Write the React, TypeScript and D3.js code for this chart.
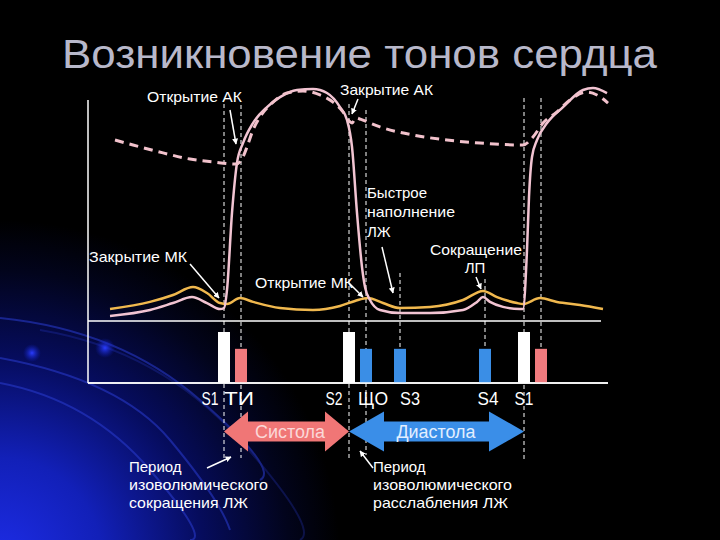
import React from 'react';
import * as d3 from 'd3';

// ---------- DATA ----------
const title = 'Возникновение тонов сердца';

// Aortic pressure (dashed), time in ms, pressure in mmHg
const aorticTime = [54, 90, 150, 204, 250, 296, 310, 318, 330, 344, 368, 398, 430, 464, 490, 510, 522, 528, 536, 546, 584, 650, 718, 784, 870, 890, 910, 938, 964, 998, 1018, 1040];
const aorticPressure = [93.5, 90.9, 86.8, 83.6, 82.1, 81.0, 84.7, 89.9, 98.7, 105.5, 112.7, 117.9, 119.0, 116.9, 113.2, 108.1, 103.4, 102.4, 105.0, 104.2, 100.3, 96.1, 93.5, 91.9, 90.9, 95.1, 102.3, 108.1, 114.3, 118.4, 116.9, 112.7];

// Left ventricular pressure (solid)
const lvTime = [44, 124, 170, 208, 238, 264, 272, 278, 288, 298, 310, 330, 358, 384, 418, 450, 478, 504, 518, 528, 538, 548, 554, 564, 584, 624, 684, 750, 778, 790, 804, 830, 864, 870, 878, 882, 888, 898, 918, 950, 990, 1010, 1038];
const lvPressure = [2.1, 5.2, 8.8, 11.9, 8.8, 5.7, 6.2, 15.6, 55.6, 81.6, 91.9, 102.3, 110.6, 115.8, 119.5, 120.0, 117.9, 110.6, 103.9, 89.9, 55.6, 27.5, 17.1, 10.4, 5.2, 3.6, 3.6, 5.2, 9.4, 11.9, 9.4, 6.8, 5.7, 5.7, 36.4, 63.9, 84.7, 93.5, 102.3, 110.6, 119.5, 120.5, 117.9];

// Left atrial pressure (yellow)
const laTime = [44, 124, 170, 210, 238, 264, 278, 304, 330, 384, 450, 504, 534, 560, 590, 624, 684, 750, 790, 818, 858, 870, 904, 938, 984, 1030];
const laPressure = [5.7, 9.4, 13.0, 17.1, 14.0, 8.8, 8.3, 11.4, 9.4, 6.2, 5.2, 7.3, 9.9, 11.4, 8.8, 6.2, 6.8, 10.4, 15.1, 11.9, 8.8, 8.3, 11.4, 9.4, 7.8, 5.7];

// Heart sounds (phonocardiogram bars)
const toneLabels = ['S1', 'ТИ', 'S2', 'ЩО', 'S3', 'S4', 'S1', ''];
const toneTimes = [272, 306, 522, 556, 624, 794, 872, 906];
const toneIntensity = [1, 0.67, 1, 0.67, 0.67, 0.67, 1, 0.67];
const toneKinds = ['tone', 'ti', 'tone', 'extra', 'extra', 'extra', 'tone', 'ti'];

// Phases
const phaseLabels = ['Систола', 'Диастола'];
const phaseStart = [272, 522];
const phaseEnd = [522, 872];

// ---------- LAYOUT ----------
const W = 720;
const H = 540;
const x = d3.scaleLinear().domain([0, 1040]).range([88, 608]);
const y = d3.scaleLinear().domain([0, 120]).range([320, 89]);
const yBar = d3.scaleLinear().domain([0, 1]).range([383, 332]);

const zip = (t: number[], p: number[]) => t.map((v, i) => [v, p[i]] as [number, number]);
const line = d3
  .line<[number, number]>()
  .x((d) => x(d[0]))
  .y((d) => y(d[1]))
  .curve(d3.curveMonotoneX);

const kindColor: Record<string, string> = {
  tone: '#ffffff',
  ti: '#f07a7e',
  extra: '#3a8ee6',
};

// per-marker dashed guide extents (pixels)
const guideTop = [104, 105, 104, 110, 273, 279, 98, 98];
const guideBottom = [458, 458, 458, 455, 383, 383, 461, 383];
const labelDx = [-14, -2, -15, 7, 10, 3, 0, 0];
const labelWidth = [17, 30, 17, 30, 20, 21, 19, 0];

const font = '"Liberation Sans", Arial, sans-serif';

function Arrow({ x1, y1, x2, y2 }: { x1: number; y1: number; x2: number; y2: number }) {
  return <line x1={x1} y1={y1} x2={x2} y2={y2} stroke="#fff" strokeWidth={1.5} markerEnd="url(#ah)" />;
}

function DoubleArrow({ x1, x2, head, color }: { x1: number; x2: number; head: number; color: string }) {
  const yc = 431.5;
  const hh = 20;
  const sh = 10;
  const pts = [
    [x1, yc],
    [x1 + head, yc - hh],
    [x1 + head, yc - sh],
    [x2 - head, yc - sh],
    [x2 - head, yc - hh],
    [x2, yc],
    [x2 - head, yc + hh],
    [x2 - head, yc + sh],
    [x1 + head, yc + sh],
    [x1 + head, yc + hh],
  ];
  return <polygon points={pts.map((p) => p.join(',')).join(' ')} fill={color} />;
}

export default function App() {
  const aortic = zip(aorticTime, aorticPressure);
  const lv = zip(lvTime, lvPressure);
  const la = zip(laTime, laPressure);

  const textStyle = { fontFamily: font, fill: '#fff' } as const;

  return (
    <svg
      width={W}
      height={H}
      style={{ position: 'fixed', left: 0, top: 0, display: 'block' }}
      viewBox={`0 0 ${W} ${H}`}
    >
      <defs>
        <radialGradient id="bg" cx="0" cy="560" r="340" gradientUnits="userSpaceOnUse">
          <stop offset="0" stopColor="#1d2ce6" />
          <stop offset="0.3" stopColor="#1220b8" />
          <stop offset="0.6" stopColor="#060c5c" />
          <stop offset="0.85" stopColor="#02041c" />
          <stop offset="1" stopColor="#000" />
        </radialGradient>
        <radialGradient id="dot">
          <stop offset="0" stopColor="#2a3cff" stopOpacity={1} />
          <stop offset="1" stopColor="#1020c0" stopOpacity={0} />
        </radialGradient>
        <marker id="ah" viewBox="0 0 10 10" refX="9" refY="5" markerWidth="6" markerHeight="6" orient="auto" markerUnits="userSpaceOnUse">
          <path d="M0,0 L10,5 L0,10 z" fill="#fff" />
        </marker>
      </defs>

      {/* background */}
      <rect width={W} height={H} fill="#000" />
      <rect width={W} height={H} fill="url(#bg)" />
      <g fill="none" stroke="#2a3cd0" strokeWidth={2} opacity={0.55}>
        <path d="M0,318 Q120,330 200,400 T260,480" />
        <path d="M0,358 Q120,380 170,440 T230,530" />
        <path d="M0,383 Q90,400 150,470 T190,540" />
        <path d="M40,330 Q160,350 240,440 T300,540" opacity={0.5} />
      </g>
      <circle cx={32} cy={353} r={9} fill="url(#dot)" />
      <circle cx={105} cy={348} r={10} fill="url(#dot)" />

      {/* title */}
      <text x={62} y={68} fontSize={40} textLength={595} lengthAdjust="spacingAndGlyphs" style={{ fontFamily: font }} fill="#b8b8ca">
        {title}
      </text>

      {/* chart frame */}
      <g stroke="#fff" strokeWidth={1.5}>
        <line x1={88} y1={100} x2={88} y2={383} />
        <line x1={88} y1={321} x2={601} y2={321} />
        <line x1={88} y1={383} x2={608} y2={383} />
      </g>

      {/* dashed guides */}
      <g stroke="#fff" strokeWidth={1} strokeDasharray="4,3">
        {toneTimes.map((t, i) => (
          <line key={i} x1={x(t)} x2={x(t)} y1={guideTop[i]} y2={guideBottom[i]} />
        ))}
      </g>

      {/* curves */}
      <path d={line(la) || ''} fill="none" stroke="#f0b84e" strokeWidth={2.5} />
      <path d={line(lv) || ''} fill="none" stroke="#f2c4d2" strokeWidth={2.5} />
      <path d={line(aortic) || ''} fill="none" stroke="#f2c2cc" strokeWidth={3} strokeDasharray="9,6" />

      {/* bars */}
      {toneTimes.map((t, i) => (
        <rect
          key={i}
          x={x(t) - 6}
          width={12}
          y={yBar(toneIntensity[i])}
          height={yBar(0) - yBar(toneIntensity[i])}
          fill={kindColor[toneKinds[i]]}
        />
      ))}
      <line x1={88} y1={383} x2={608} y2={383} stroke="#fff" strokeWidth={1.5} />

      {/* bar labels */}
      {toneLabels.map((l, i) =>
        l ? (
          <text
            key={i}
            x={x(toneTimes[i]) + labelDx[i]}
            y={405}
            fontSize={19}
            textAnchor="middle"
            textLength={labelWidth[i]}
            lengthAdjust="spacingAndGlyphs"
            style={textStyle}
          >
            {l}
          </text>
        ) : null
      )}

      {/* phase arrows */}
      <DoubleArrow x1={x(phaseStart[0])} x2={x(phaseEnd[0])} head={24} color="#f07676" />
      <DoubleArrow x1={x(phaseStart[1])} x2={x(phaseEnd[1])} head={35} color="#3a8ee8" />
      <text x={290} y={438} fontSize={18} textAnchor="middle" textLength={70} lengthAdjust="spacingAndGlyphs" style={{ fontFamily: font }} fill="#fbd8d8">
        {phaseLabels[0]}
      </text>
      <text x={436} y={438} fontSize={18} textAnchor="middle" textLength={79} lengthAdjust="spacingAndGlyphs" style={{ fontFamily: font }} fill="#e2eeff">
        {phaseLabels[1]}
      </text>

      {/* annotations */}
      <g fontSize={15} style={textStyle}>
        <text x={147} y={102} textLength={95} lengthAdjust="spacingAndGlyphs">Открытие АК</text>
        <text x={340} y={95} textLength={93} lengthAdjust="spacingAndGlyphs">Закрытие АК</text>
        <text x={367} y={198}>Быстрое</text>
        <text x={367} y={217} textLength={88} lengthAdjust="spacingAndGlyphs">наполнение</text>
        <text x={367} y={237}>ЛЖ</text>
        <text x={430} y={255} textLength={92} lengthAdjust="spacingAndGlyphs">Сокращение</text>
        <text x={475} y={273} textAnchor="middle">ЛП</text>
        <text x={89} y={262} textLength={98} lengthAdjust="spacingAndGlyphs">Закрытие МК</text>
        <text x={255} y={288} textLength={98} lengthAdjust="spacingAndGlyphs">Открытие МК</text>
        <text x={129} y={472}>Период</text>
        <text x={129} y={490} textLength={139} lengthAdjust="spacingAndGlyphs">изоволюмического</text>
        <text x={129} y={508} textLength={119} lengthAdjust="spacingAndGlyphs">сокращения ЛЖ</text>
        <text x={373} y={472}>Период</text>
        <text x={373} y={490} textLength={139} lengthAdjust="spacingAndGlyphs">изоволюмического</text>
        <text x={373} y={508} textLength={135} lengthAdjust="spacingAndGlyphs">расслабления ЛЖ</text>
      </g>
      <Arrow x1={230} y1={110} x2={236} y2={144} />
      <Arrow x1={358} y1={99} x2={352} y2={114} />
      <Arrow x1={382} y1={247} x2={393} y2={293} />
      <Arrow x1={476} y1={277} x2={481} y2={289} />
      <Arrow x1={190} y1={264} x2={219} y2={298} />
      <Arrow x1={349} y1={283} x2={363} y2={297} />
      <Arrow x1={207} y1={468} x2={231} y2={457} />
      <Arrow x1={373} y1={468} x2={360} y2={451} />
    </svg>
  );
}
